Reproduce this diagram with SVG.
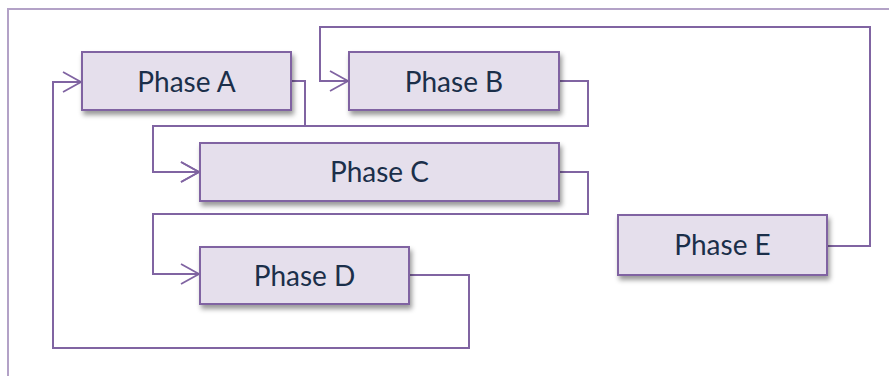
<svg xmlns="http://www.w3.org/2000/svg" width="889" height="376" viewBox="0 0 889 376">
  <style>
    .frame { fill: none; stroke: #b3a2c7; stroke-width: 2; }
    .box { fill: #e5dfec; stroke: #8064a2; stroke-width: 2; filter: url(#shadow); }
    .label { font-family: Lato, "Open Sans", "Liberation Sans", sans-serif; font-size: 28px; fill: #1b2f4a; text-anchor: middle; }
    .link { fill: none; stroke: #8064a2; stroke-width: 2; marker-end: url(#chevron); }
  </style>
  <defs>
    <filter id="shadow" x="-10%" y="-20%" width="125%" height="160%">
      <feDropShadow dx="2" dy="4" stdDeviation="2.5" flood-color="#000" flood-opacity="0.4"/>
    </filter>
    <marker id="chevron" markerUnits="userSpaceOnUse" viewBox="-20 -12 22 24" refX="0" refY="0" markerWidth="22" markerHeight="24" orient="auto">
      <path d="M-18,-10 L0,0 L-18,10" fill="none" stroke="#8064a2" stroke-width="1.8"/>
    </marker>
  </defs>

  <rect width="889" height="376" fill="#ffffff"/>
  <!-- outer frame: top and left edges -->
  <path class="frame" d="M8,376 V9 H889"/>

  <g id="connectors">
    <path class="link" d="M291,81 H305 V126 H153 V172 H199"/>
    <path class="link" d="M559,81 H588 V126 H153 V172 H199"/>
    <path class="link" d="M559,172 H588 V214 H153 V274 H199"/>
    <path class="link" d="M409,275 H469 V348 H53 V82 H81"/>
    <path class="link" d="M827,246 H870 V27 H320 V81 H348"/>
  </g>

  <g id="phase-a">
    <rect class="box" x="82" y="52" width="209" height="58"/>
    <text class="label" x="186.5" y="92">Phase A</text>
  </g>
  <g id="phase-b">
    <rect class="box" x="349" y="52" width="210" height="58"/>
    <text class="label" x="454" y="92">Phase B</text>
  </g>
  <g id="phase-c">
    <rect class="box" x="200" y="143" width="359" height="58"/>
    <text class="label" x="379.5" y="182">Phase C</text>
  </g>
  <g id="phase-d">
    <rect class="box" x="200" y="247" width="209" height="57"/>
    <text class="label" x="304.5" y="286">Phase D</text>
  </g>
  <g id="phase-e">
    <rect class="box" x="618" y="215" width="209" height="60"/>
    <text class="label" x="722.5" y="255">Phase E</text>
  </g>
</svg>
